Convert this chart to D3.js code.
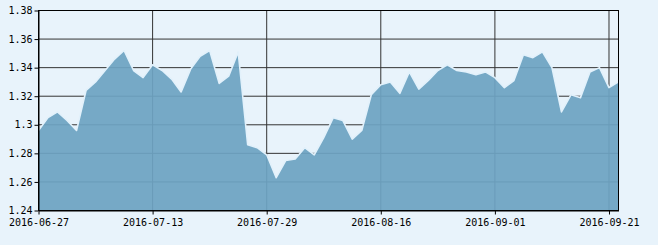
<!DOCTYPE html>
<html>
<head>
<meta charset="utf-8">
<script src="https://cdnjs.cloudflare.com/ajax/libs/d3/7.8.5/d3.min.js"></script>
<style>
  html, body { margin: 0; padding: 0; background: #e8f3fb; }
  #chart { width: 658px; height: 245px; }
  text { font-family: "DejaVu Sans Mono", monospace; font-size: 10px; fill: #000; }
</style>
</head>
<body>
<div id="chart"></div>
<script>
// trading days, 2016
var dates = ['06-27','06-28','06-29','06-30','07-01','07-04','07-05','07-06','07-07','07-08',
  '07-11','07-12','07-13','07-14','07-15','07-18','07-19','07-20','07-21','07-22',
  '07-25','07-26','07-27','07-28','07-29','08-01','08-02','08-03','08-04','08-05',
  '08-08','08-09','08-10','08-11','08-12','08-15','08-16','08-17','08-18','08-19',
  '08-22','08-23','08-24','08-25','08-26','08-29','08-30','08-31','09-01','09-02',
  '09-05','09-06','09-07','09-08','09-09','09-12','09-13','09-14','09-19','09-20',
  '09-21','09-22'].map(function(d){ return '2016-' + d })

var values = [1.296,1.305,1.309,1.303,1.296,1.324,1.330,1.338,1.346,1.352,
  1.338,1.333,1.342,1.338,1.332,1.323,1.339,1.348,1.352,1.329,
  1.334,1.351,1.286,1.284,1.279,1.263,1.275,1.276,1.284,1.279,
  1.291,1.305,1.303,1.290,1.296,1.321,1.328,1.330,1.322,1.337,
  1.325,1.331,1.338,1.342,1.338,1.337,1.335,1.337,1.333,1.326,
  1.331,1.349,1.347,1.351,1.340,1.309,1.321,1.319,1.337,1.340,
  1.326,1.330]

var xTickLabels = ['2016-06-27','2016-07-13','2016-07-29','2016-08-16','2016-09-01','2016-09-21']
var yTicks = [1.24,1.26,1.28,1.30,1.32,1.34,1.36,1.38]

var width = 658, height = 245
var margin = {top: 10.5, right: 39.5, bottom: 34.5, left: 38.5}

var svg = d3.select('#chart').append('svg')
    .attr('width', width)
    .attr('height', height)

var x = d3.scalePoint().domain(dates).range([margin.left, width - margin.right]),
    y = d3.scaleLinear().domain([1.24, 1.38]).range([height - margin.bottom, margin.top])

var data = dates.map(function(d, i){ return {day: d, value: values[i]} })

// grid
var grid = svg.append('g').attr('stroke', '#333').attr('stroke-width', 1)
grid.selectAll('.hg').data(yTicks).enter().append('line')
    .attr('x1', margin.left).attr('x2', width - margin.right)
    .attr('y1', function(d){ return y(d) }).attr('y2', function(d){ return y(d) })
grid.selectAll('.vg').data(xTickLabels).enter().append('line')
    .attr('x1', function(d){ return x(d) }).attr('x2', function(d){ return x(d) })
    .attr('y1', margin.top).attr('y2', height - margin.bottom)

var area = d3.area()
    .x(function(d){ return x(d.day) })
    .y0(y(1.24))
    .y1(function(d){ return y(d.value) })

var line = d3.line()
    .x(function(d){ return x(d.day) })
    .y(function(d){ return y(d.value) })

svg.append('path')
    .datum(data)
    .attr('fill', 'rgb(109,163,194)')
    .attr('fill-opacity', 0.935)
    .attr('d', area)

svg.append('path')
    .datum(data)
    .attr('fill', 'none')
    .attr('stroke', '#e2f1fb')
    .attr('stroke-width', 1.6)
    .attr('stroke-linejoin', 'round')
    .attr('d', line)

// frame
svg.append('rect')
    .attr('x', margin.left).attr('y', margin.top)
    .attr('width', width - margin.right - margin.left)
    .attr('height', height - margin.bottom - margin.top)
    .attr('fill', 'none').attr('stroke', '#000')

var xAxis = d3.axisBottom(x).tickValues(xTickLabels).tickSize(4).tickSizeOuter(0)
var yAxis = d3.axisLeft(y).tickValues(yTicks).tickSize(4).tickSizeOuter(0)
    .tickFormat(function(d){ return String(+d.toFixed(2)) })

svg.append('g')
    .attr('class', 'axis axis--x')
    .attr('transform', 'translate(0,' + (height - margin.bottom) + ')')
    .call(xAxis)

svg.append('g')
    .attr('class', 'axis axis--y')
    .attr('transform', 'translate(' + margin.left + ',0)')
    .call(yAxis)

svg.selectAll('.axis path').attr('stroke', '#000')
svg.selectAll('.axis line').attr('stroke', '#000')
svg.selectAll('.axis text').attr('fill', '#000')
    .style('font-family', '"DejaVu Sans Mono", monospace').style('font-size', '10px')
svg.selectAll('.axis--y text').attr('x', -6)
svg.selectAll('.axis--x text').attr('y', 8)
</script>
</body>
</html>
